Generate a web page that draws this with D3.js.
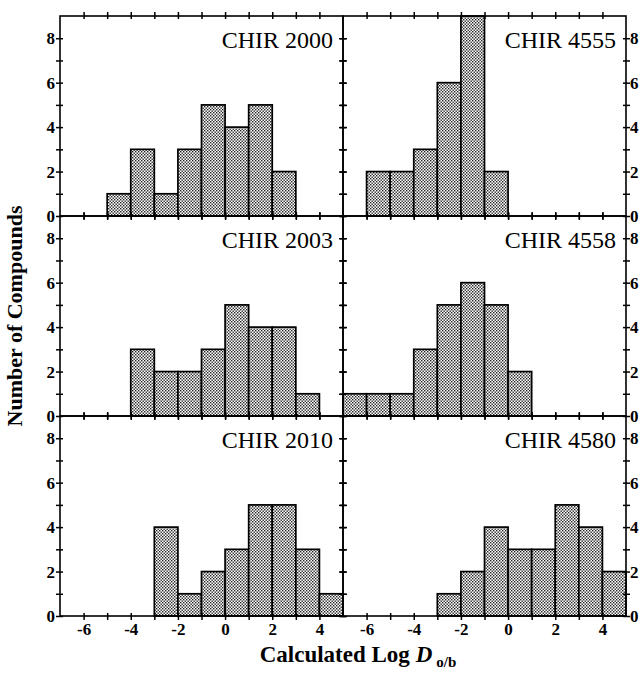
<!DOCTYPE html>
<html>
<head>
<meta charset="utf-8">
<script src="https://cdn.jsdelivr.net/npm/d3@7"></script>
<style>
  body { margin: 0; background: #fff; }
  text { font-family: "Liberation Serif", "DejaVu Serif", serif; }
</style>
</head>
<body>
<script>
// bin left edges (bins are one log unit wide) and counts, one array per compound
var chir2000Bins = [-5, -4, -3, -2, -1, 0, 1, 2];
var chir2000Counts = [1, 3, 1, 3, 5, 4, 5, 2];

var chir4555Bins = [-6, -5, -4, -3, -2, -1];
var chir4555Counts = [2, 2, 3, 6, 9, 2];

var chir2003Bins = [-4, -3, -2, -1, 0, 1, 2, 3];
var chir2003Counts = [3, 2, 2, 3, 5, 4, 4, 1];

var chir4558Bins = [-7, -6, -5, -4, -3, -2, -1, 0];
var chir4558Counts = [1, 1, 1, 3, 5, 6, 5, 2];

var chir2010Bins = [-3, -2, -1, 0, 1, 2, 3, 4];
var chir2010Counts = [4, 1, 2, 3, 5, 5, 3, 1];

var chir4580Bins = [-3, -2, -1, 0, 1, 2, 3, 4];
var chir4580Counts = [1, 2, 4, 3, 3, 5, 4, 2];

var xTicks = [-6, -4, -2, 0, 2, 4];
var yTicks = [0, 2, 4, 6, 8];

var panels = [
  {name: "CHIR 2000", bins: chir2000Bins, counts: chir2000Counts, col: 0, row: 0},
  {name: "CHIR 4555", bins: chir4555Bins, counts: chir4555Counts, col: 1, row: 0},
  {name: "CHIR 2003", bins: chir2003Bins, counts: chir2003Counts, col: 0, row: 1},
  {name: "CHIR 4558", bins: chir4558Bins, counts: chir4558Counts, col: 1, row: 1},
  {name: "CHIR 2010", bins: chir2010Bins, counts: chir2010Counts, col: 0, row: 2},
  {name: "CHIR 4580", bins: chir4580Bins, counts: chir4580Counts, col: 1, row: 2}
];

var W = 644, H = 673;
var marginLeft = 60, marginTop = 16, panelW = 283, panelH = 200;

var svg = d3.select("body").append("svg")
    .attr("width", W)
    .attr("height", H);

// stipple fill
var pat = svg.append("defs").append("pattern")
    .attr("id", "dots")
    .attr("patternUnits", "userSpaceOnUse")
    .attr("width", 3)
    .attr("height", 3);
pat.append("rect").attr("width", 3).attr("height", 3).attr("fill", "#fff");
pat.append("rect").attr("x", 0).attr("y", 0).attr("width", 1.4).attr("height", 1.4).attr("fill", "#222");
pat.append("rect").attr("x", 1.5).attr("y", 1.5).attr("width", 1.4).attr("height", 1.4).attr("fill", "#222");

var x = d3.scaleLinear().domain([-7, 5]).range([0, panelW]);
var y = d3.scaleLinear().domain([0, 9]).range([panelH, 0]);

var allY = d3.range(0, 9);
var allX = d3.range(-6, 5);

function evenOnly(d) { return yTicks.indexOf(d) >= 0 ? d : ""; }
function blank() { return ""; }

panels.forEach(function(p) {
  var g = svg.append("g")
      .attr("transform", "translate(" + (marginLeft + p.col * panelW) + "," + (marginTop + p.row * panelH) + ")");

  var data = p.bins.map(function(b, i) { return {x0: b, n: p.counts[i]}; });

  g.selectAll("rect.bar")
    .data(data)
    .enter().append("rect")
      .attr("class", "bar")
      .attr("x", function(d) { return x(d.x0); })
      .attr("width", function(d) { return x(d.x0 + 1) - x(d.x0); })
      .attr("y", function(d) { return y(d.n); })
      .attr("height", function(d) { return y(0) - y(d.n); })
      .attr("fill", "url(#dots)")
      .attr("stroke", "#000")
      .attr("stroke-width", 1.7);

  // frame
  g.append("rect")
      .attr("width", panelW)
      .attr("height", panelH)
      .attr("fill", "none")
      .attr("stroke", "#000")
      .attr("stroke-width", 1.6);

  var yl = g.append("g")
      .call(d3.axisLeft(y).tickValues(allY).tickSize(4)
        .tickFormat(p.col === 0 ? evenOnly : blank));
  var yr = g.append("g")
      .attr("transform", "translate(" + panelW + ",0)")
      .call(d3.axisRight(y).tickValues(allY).tickSize(4)
        .tickFormat(p.col === 1 ? evenOnly : blank));
  var xb = g.append("g")
      .attr("transform", "translate(0," + panelH + ")")
      .call(d3.axisBottom(x).tickValues(allX).tickSize(4)
        .tickFormat(function(d) { return p.row === 2 && xTicks.indexOf(d) >= 0 ? d : ""; }));
  var xt = g.append("g")
      .call(d3.axisTop(x).tickValues(allX).tickSize(4).tickFormat(blank));

  [yl, yr, xb, xt].forEach(function(a) {
    a.select(".domain").remove();
    a.selectAll("line").attr("stroke-width", 1.5);
    a.selectAll("text")
      .style("font-size", "17px")
      .style("font-weight", "bold")
      .attr("fill", "#000");
  });
  yl.selectAll("line").attr("x1", 3);
  yr.selectAll("line").attr("x1", -3);
  yl.selectAll("text").attr("x", -5);
  yr.selectAll("text").attr("x", 4);
  xb.selectAll("line").attr("y1", -3);
  xb.selectAll("text").attr("y", 7);
  xt.selectAll("line").attr("y1", 3);

  g.append("text")
      .attr("x", panelW - 10)
      .attr("y", 32)
      .attr("text-anchor", "end")
      .style("font-size", "24px")
      .text(p.name);
});

// axis titles
svg.append("text")
    .attr("transform", "translate(22," + (marginTop + 1.5 * panelH) + ") rotate(-90)")
    .attr("text-anchor", "middle")
    .style("font-size", "22px")
    .style("font-weight", "bold")
    .text("Number of Compounds");

var xl = svg.append("text")
    .attr("x", marginLeft + panelW + 15)
    .attr("y", 662)
    .attr("text-anchor", "middle")
    .style("font-size", "23px")
    .style("font-weight", "bold");
xl.append("tspan").text("Calculated Log ");
xl.append("tspan").style("font-style", "italic").text("D");
xl.append("tspan").attr("dx", 4).attr("dy", 5).style("font-size", "15px").text("o/b");
</script>
</body>
</html>
